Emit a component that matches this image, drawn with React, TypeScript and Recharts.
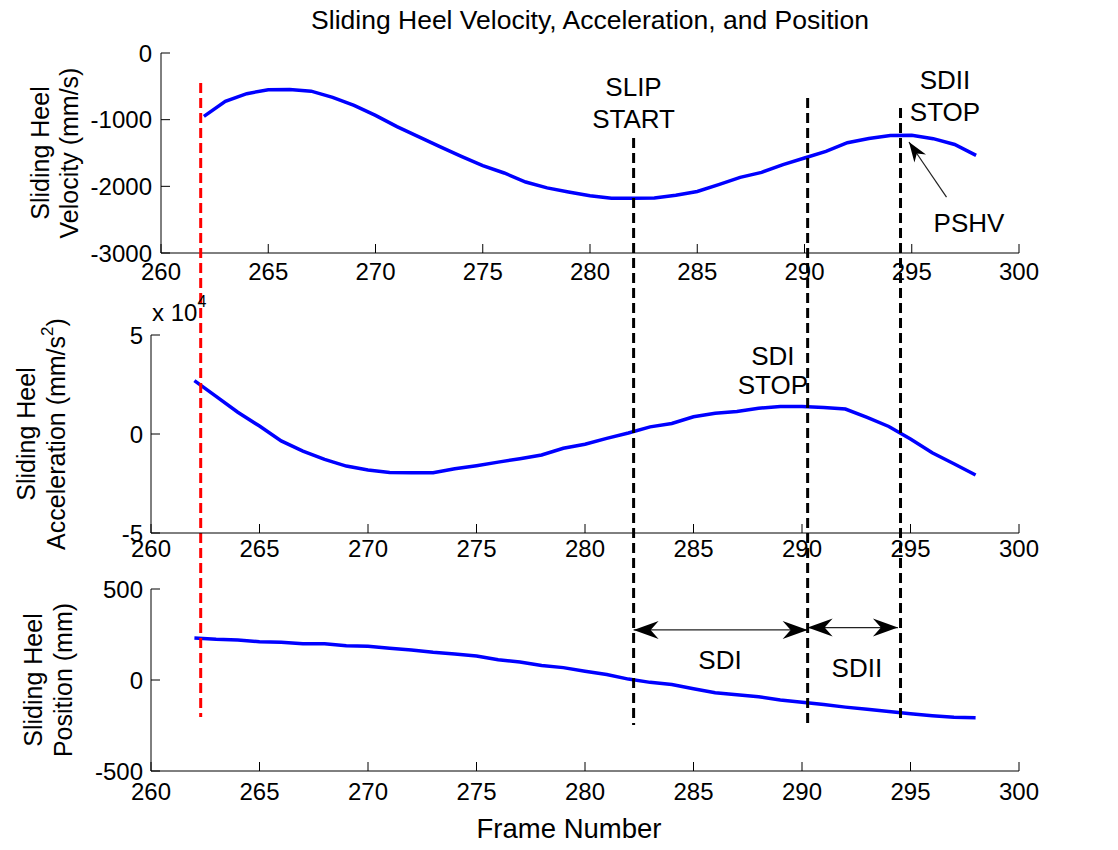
import React from 'react';
import { LineChart, Line, XAxis, YAxis, ReferenceLine, ReferenceDot, Label } from 'recharts';

const FONT = '"Liberation Sans", Arial, Helvetica, sans-serif';

const frames = [262, 263, 264, 265, 266, 267, 268, 269, 270, 271, 272, 273, 274, 275, 276, 277, 278, 279, 280,
  281, 282, 283, 284, 285, 286, 287, 288, 289, 290, 291, 292, 293, 294, 295, 296, 297, 298];
const velocity = [-950, -725, -610, -550, -547, -572, -665, -785, -935, -1105, -1255, -1405, -1550, -1690, -1800,
  -1935, -2023, -2085, -2140, -2178, -2180, -2175, -2135, -2078, -1975, -1865, -1790, -1675, -1575, -1476, -1345,
  -1283, -1236, -1235, -1285, -1372, -1536];
// acceleration in units of 10^4 mm/s^2
const acceleration = [2.7, 1.9, 1.1, 0.4, -0.35, -0.86, -1.28, -1.62, -1.82, -1.94, -1.96, -1.96, -1.76, -1.6,
  -1.42, -1.25, -1.06, -0.72, -0.52, -0.22, 0.05, 0.36, 0.53, 0.87, 1.05, 1.14, 1.3, 1.39, 1.39, 1.34, 1.26, 0.84,
  0.38, -0.25, -0.95, -1.5, -2.07];
const position = [231, 224, 220, 210, 208, 199, 199, 188, 186, 175, 165, 152, 143, 132, 111, 99, 80, 68, 48, 30, 5,
  -13, -25, -48, -70, -81, -92, -110, -122, -135, -149, -161, -173, -185, -196, -205, -208];

const frameTicks = [260, 265, 270, 275, 280, 285, 290, 295, 300];
const velocityTicks = [-3000, -2000, -1000, 0];
const accelTicks = [-5, 0, 5];
const positionTicks = [-500, 0, 500];

// event lines (red = heel strike, black = slip start / SDI stop / SDII stop),
// drawn through the middle panel's scales so they run across the whole figure
const markerFrames = [262.29, 282.24, 290.26, 294.54];
const markerTops = [17.73, 14.95, 16.97, 16.46];
const markerBottoms = [-14.29, -14.7, -14.85, -14.55];
const markerColors = ['#ff0000', '#000000', '#000000', '#000000'];

const velocityData = frames.map((frame, i) => ({ frame, value: velocity[i] }));
const accelData = frames.map((frame, i) => ({ frame, value: acceleration[i] }));
const positionData = frames.map((frame, i) => ({ frame, value: position[i] }));

const tickText = { fontSize: 24, fill: '#000', fontFamily: FONT };
const black = { stroke: '#000', strokeWidth: 1 };

function note(text: string, size = 26) {
  return (props: any) => {
    const vb = props.viewBox;
    return (
      <text x={vb.x + vb.width / 2} y={vb.y + vb.height / 2} textAnchor="middle" dominantBaseline="central"
        fontSize={size} fontFamily={FONT} fill="#000">{text}</text>
    );
  };
}

function yTitle(first: string, second: React.ReactNode, dx1: number, dx2: number) {
  return (props: any) => {
    const vb = props.viewBox;
    const right = vb.x + vb.width;
    const cy = vb.y + vb.height / 2;
    return (
      <g fontSize={25} fontFamily={FONT} fill="#000">
        <text transform={`translate(${right + dx1},${cy}) rotate(-90)`} textAnchor="middle" dominantBaseline="central">{first}</text>
        <text transform={`translate(${right + dx2},${cy}) rotate(-90)`} textAnchor="middle" dominantBaseline="central">{second}</text>
      </g>
    );
  };
}

function head(tx: number, ty: number, fx: number, fy: number, len: number, half: number, notch: number) {
  const d = Math.hypot(tx - fx, ty - fy) || 1;
  const ux = (tx - fx) / d;
  const uy = (ty - fy) / d;
  const bx = tx - ux * len;
  const by = ty - uy * len;
  const nx = tx - ux * (len - notch);
  const ny = ty - uy * (len - notch);
  return `${tx},${ty} ${bx - uy * half},${by + ux * half} ${nx},${ny} ${bx + uy * half},${by - ux * half}`;
}

const doubleArrow = (p: any) => (
  <g>
    <line x1={p.x1} y1={p.y1} x2={p.x2} y2={p.y2} stroke="#222" strokeWidth={1.3} />
    <polygon points={head(p.x1, p.y1, p.x2, p.y2, 25, 9, 8)} fill="#000" />
    <polygon points={head(p.x2, p.y2, p.x1, p.y1, 25, 9, 8)} fill="#000" />
  </g>
);

const singleArrow = (p: any) => (
  <g>
    <line x1={p.x1} y1={p.y1} x2={p.x2} y2={p.y2} stroke="#222" strokeWidth={1.2} />
    <polygon points={head(p.x2, p.y2, p.x1, p.y1, 20, 7, 6)} fill="#000" />
  </g>
);

export default function App() {
  return (
    <div style={{ position: 'relative', width: 1118, height: 850, background: '#fff', fontFamily: FONT }}>
      <style>{`body{margin:0} .mid svg.recharts-surface{overflow:visible}`}</style>
      <div style={{ position: 'absolute', left: 240, top: 0, width: 700, lineHeight: '40px', textAlign: 'center', fontSize: 26.5 }}>
        Sliding Heel Velocity, Acceleration, and Position
      </div>

      {/* velocity */}
      <div style={{ position: 'absolute', left: 0, top: 0 }}>
        <LineChart width={1118} height={300} data={velocityData} margin={{ top: 53, right: 99, bottom: 17, left: 101 }}>
          <XAxis xAxisId="b" dataKey="frame" type="number" domain={[260, 300]} ticks={frameTicks} interval={0}
            tickSize={-9} tickMargin={19} height={30} tick={tickText} axisLine={black} tickLine={black} />
          <XAxis xAxisId="t" orientation="top" type="number" domain={[260, 300]} ticks={frameTicks} mirror height={0}
            tick={false} tickSize={9} axisLine={black} tickLine={black} />
          <YAxis yAxisId="l" type="number" domain={[-3000, 0]} ticks={velocityTicks} interval={0} tickSize={-9}
            tickMargin={18} width={60} tick={tickText} axisLine={black} tickLine={black}>
            <Label content={yTitle('Sliding Heel', 'Velocity (mm/s)', -121, -92)} />
          </YAxis>
          <YAxis yAxisId="r" orientation="right" type="number" domain={[-3000, 0]} ticks={velocityTicks} mirror width={0}
            tick={false} tickSize={9} axisLine={black} tickLine={black} />
          <Line xAxisId="b" yAxisId="l" dataKey="value" type="linear" stroke="#0000ff" strokeWidth={3.5} dot={false}
            isAnimationActive={false} />
          <ReferenceDot xAxisId="b" yAxisId="l" x={282.03} y={-510} r={0} fill="none" stroke="none" label={note('SLIP')} />
          <ReferenceDot xAxisId="b" yAxisId="l" x={282.03} y={-990} r={0} fill="none" stroke="none" label={note('START')} />
          <ReferenceDot xAxisId="b" yAxisId="l" x={296.55} y={-405} r={0} fill="none" stroke="none" label={note('SDII')} />
          <ReferenceDot xAxisId="b" yAxisId="l" x={296.55} y={-885} r={0} fill="none" stroke="none" label={note('STOP')} />
          <ReferenceDot xAxisId="b" yAxisId="l" x={297.67} y={-2550} r={0} fill="none" stroke="none" label={note('PSHV')} />
          <ReferenceLine xAxisId="b" yAxisId="l" segment={[{ x: 296.62, y: -2163 }, { x: 294.87, y: -1335 }]}
            ifOverflow="visible" shape={singleArrow} />
        </LineChart>
      </div>

      {/* position */}
      <div style={{ position: 'absolute', left: 0, top: 560 }}>
        <LineChart width={1118} height={290} data={positionData} margin={{ top: 29, right: 99, bottom: 19, left: 91 }}>
          <XAxis xAxisId="b" dataKey="frame" type="number" domain={[260, 300]} ticks={frameTicks} interval={0}
            tickSize={-9} tickMargin={21} height={60} tick={tickText} axisLine={black} tickLine={black}>
            <Label content={(props: any) => {
              const vb = props.viewBox;
              return (
                <text x={vb.x + vb.width / 2 - 16} y={268} textAnchor="middle" dominantBaseline="central"
                  fontSize={27.5} fontFamily={FONT} fill="#000">Frame Number</text>
              );
            }} />
          </XAxis>
          <XAxis xAxisId="t" orientation="top" type="number" domain={[260, 300]} ticks={frameTicks} mirror height={0}
            tick={false} tickSize={9} axisLine={black} tickLine={black} />
          <YAxis yAxisId="l" type="number" domain={[-500, 500]} ticks={positionTicks} interval={0} tickSize={-9}
            tickMargin={17} width={60} tick={tickText} axisLine={black} tickLine={black}>
            <Label content={yTitle('Sliding Heel', 'Position (mm)', -118, -88)} />
          </YAxis>
          <YAxis yAxisId="r" orientation="right" type="number" domain={[-500, 500]} ticks={positionTicks} mirror width={0}
            tick={false} tickSize={9} axisLine={black} tickLine={black} />
          <Line xAxisId="b" yAxisId="l" dataKey="value" type="linear" stroke="#0000ff" strokeWidth={3.5} dot={false}
            isAnimationActive={false} />
          <ReferenceLine xAxisId="b" yAxisId="l" segment={[{ x: 282.24, y: 275 }, { x: 290.26, y: 275 }]}
            ifOverflow="visible" shape={doubleArrow} />
          <ReferenceLine xAxisId="b" yAxisId="l" segment={[{ x: 290.26, y: 288 }, { x: 294.42, y: 288 }]}
            ifOverflow="visible" shape={doubleArrow} />
          <ReferenceDot xAxisId="b" yAxisId="l" x={286.22} y={110} r={0} fill="none" stroke="none" label={note('SDI')} />
          <ReferenceDot xAxisId="b" yAxisId="l" x={292.53} y={66} r={0} fill="none" stroke="none" label={note('SDII')} />
        </LineChart>
      </div>

      {/* acceleration (also carries the figure-wide event lines) */}
      <div className="mid" style={{ position: 'absolute', left: 0, top: 300 }}>
        <LineChart width={1118} height={260} data={accelData} margin={{ top: 35, right: 99, bottom: 7, left: 91 }}>
          <XAxis xAxisId="b" dataKey="frame" type="number" domain={[260, 300]} ticks={frameTicks} interval={0}
            tickSize={-9} tickMargin={16} height={20} tick={tickText} axisLine={black} tickLine={black} />
          <XAxis xAxisId="t" orientation="top" type="number" domain={[260, 300]} ticks={frameTicks} mirror height={0}
            tick={false} tickSize={9} axisLine={black} tickLine={black} />
          <YAxis yAxisId="l" type="number" domain={[-5, 5]} ticks={accelTicks} interval={0} tickSize={-9}
            tickMargin={17} width={60} tick={tickText} axisLine={black} tickLine={black}>
            <Label content={yTitle('Sliding Heel',
              <>
                <tspan>Acceleration (mm/s</tspan>
                <tspan dy={-9} fontSize={17}>2</tspan>
                <tspan dy={9}>)</tspan>
              </>, -125, -95)} />
          </YAxis>
          <YAxis yAxisId="r" orientation="right" type="number" domain={[-5, 5]} ticks={accelTicks} mirror width={0}
            tick={false} tickSize={9} axisLine={black} tickLine={black} />
          <Line xAxisId="b" yAxisId="l" dataKey="value" type="linear" stroke="#0000ff" strokeWidth={3.5} dot={false}
            isAnimationActive={false} />
          <ReferenceDot xAxisId="b" yAxisId="l" x={288.66} y={3.94} r={0} fill="none" stroke="none" label={note('SDI')} />
          <ReferenceDot xAxisId="b" yAxisId="l" x={288.66} y={2.47} r={0} fill="none" stroke="none" label={note('STOP')} />
          {markerFrames.map((f, i) => (
            <ReferenceLine key={i} xAxisId="b" yAxisId="l"
              segment={[{ x: f, y: markerTops[i] }, { x: f, y: markerBottoms[i] }]}
              stroke={markerColors[i]} strokeWidth={3} strokeDasharray="10 5" ifOverflow="visible" />
          ))}
        </LineChart>
      </div>

      <div style={{ position: 'absolute', left: 152, top: 301, fontSize: 24, lineHeight: '24px' }}>
        x 10<span style={{ fontSize: 16, position: 'relative', top: -14 }}>4</span>
      </div>
    </div>
  );
}
